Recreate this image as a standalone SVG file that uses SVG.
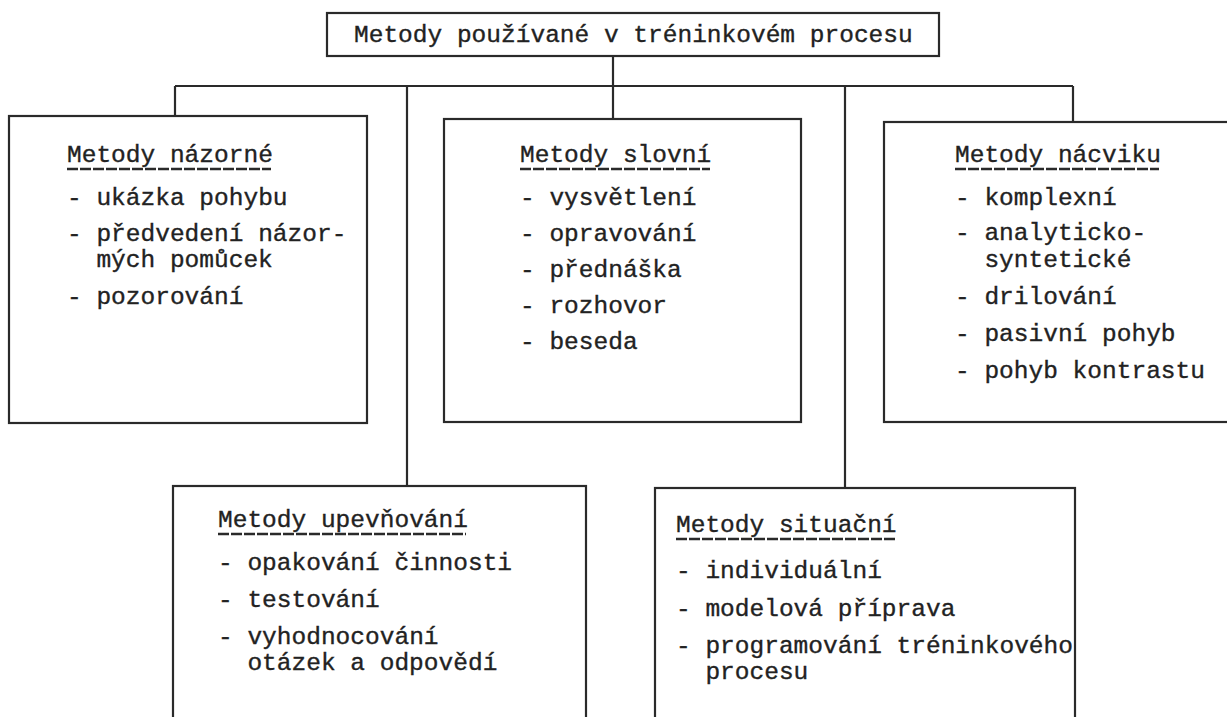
<svg xmlns="http://www.w3.org/2000/svg" width="1227" height="717" viewBox="0 0 1227 717">
  <style>
    .box { fill: none; stroke: #2a2a2a; stroke-width: 2.2; }
    .conn { fill: none; stroke: #2a2a2a; stroke-width: 2.2; }
    .t { font-family: "Liberation Mono", "DejaVu Sans Mono", monospace; font-size: 24.5px; fill: #222; stroke: #222; stroke-width: 0.35; }
    .ul { stroke: #2a2a2a; stroke-width: 2.4; stroke-dasharray: 11 2; }
  </style>
  <rect x="0" y="0" width="1227" height="717" fill="#ffffff"/>

  <g id="connectors">
    <path class="conn" d="M613,56 V119"/>
    <path class="conn" d="M175,86 H1073"/>
    <path class="conn" d="M175,86 V116"/>
    <path class="conn" d="M1073,86 V122"/>
    <path class="conn" d="M407,86 V486"/>
    <path class="conn" d="M845,86 V488"/>
  </g>

  <g id="title">
    <rect class="box" x="327" y="13" width="612" height="43"/>
    <text class="t" x="354" y="42">Metody používané v tréninkovém procesu</text>
  </g>

  <g id="metody-nazorne">
    <rect class="box" x="9" y="116" width="358" height="307"/>
    <text class="t" x="67" y="162">Metody názorné</text>
    <line class="ul" x1="67" y1="169" x2="271" y2="169"/>
    <text class="t" x="67" y="205">- ukázka pohybu</text>
    <text class="t" x="67" y="241">- předvedení názor-</text>
    <text class="t" x="96.4" y="267">mých pomůcek</text>
    <text class="t" x="67" y="304">- pozorování</text>
  </g>

  <g id="metody-slovni">
    <rect class="box" x="444" y="119" width="357" height="303"/>
    <text class="t" x="520" y="162">Metody slovní</text>
    <line class="ul" x1="520" y1="169" x2="710" y2="169"/>
    <text class="t" x="520" y="205">- vysvětlení</text>
    <text class="t" x="520" y="241">- opravování</text>
    <text class="t" x="520" y="277">- přednáška</text>
    <text class="t" x="520" y="313">- rozhovor</text>
    <text class="t" x="520" y="349">- beseda</text>
  </g>

  <g id="metody-nacviku">
    <rect class="box" x="884" y="122" width="360" height="300"/>
    <text class="t" x="955" y="162">Metody nácviku</text>
    <line class="ul" x1="955" y1="169" x2="1159" y2="169"/>
    <text class="t" x="955" y="205">- komplexní</text>
    <text class="t" x="955" y="240">- analyticko-</text>
    <text class="t" x="984.4" y="267">syntetické</text>
    <text class="t" x="955" y="304">- drilování</text>
    <text class="t" x="955" y="341">- pasivní pohyb</text>
    <text class="t" x="955" y="378">- pohyb kontrastu</text>
  </g>

  <g id="metody-upevnovani">
    <rect class="box" x="173" y="486" width="413" height="260"/>
    <text class="t" x="218" y="527">Metody upevňování</text>
    <line class="ul" x1="218" y1="534" x2="466" y2="534"/>
    <text class="t" x="218" y="570">- opakování činnosti</text>
    <text class="t" x="218" y="607">- testování</text>
    <text class="t" x="218" y="644">- vyhodnocování</text>
    <text class="t" x="247.4" y="670">otázek a odpovědí</text>
  </g>

  <g id="metody-situacni">
    <rect class="box" x="655" y="488" width="420" height="260"/>
    <text class="t" x="676" y="532">Metody situační</text>
    <line class="ul" x1="676" y1="539" x2="895" y2="539"/>
    <text class="t" x="676" y="578">- individuální</text>
    <text class="t" x="676" y="616">- modelová příprava</text>
    <text class="t" x="676" y="653">- programování tréninkového</text>
    <text class="t" x="705.4" y="679">procesu</text>
  </g>
</svg>
